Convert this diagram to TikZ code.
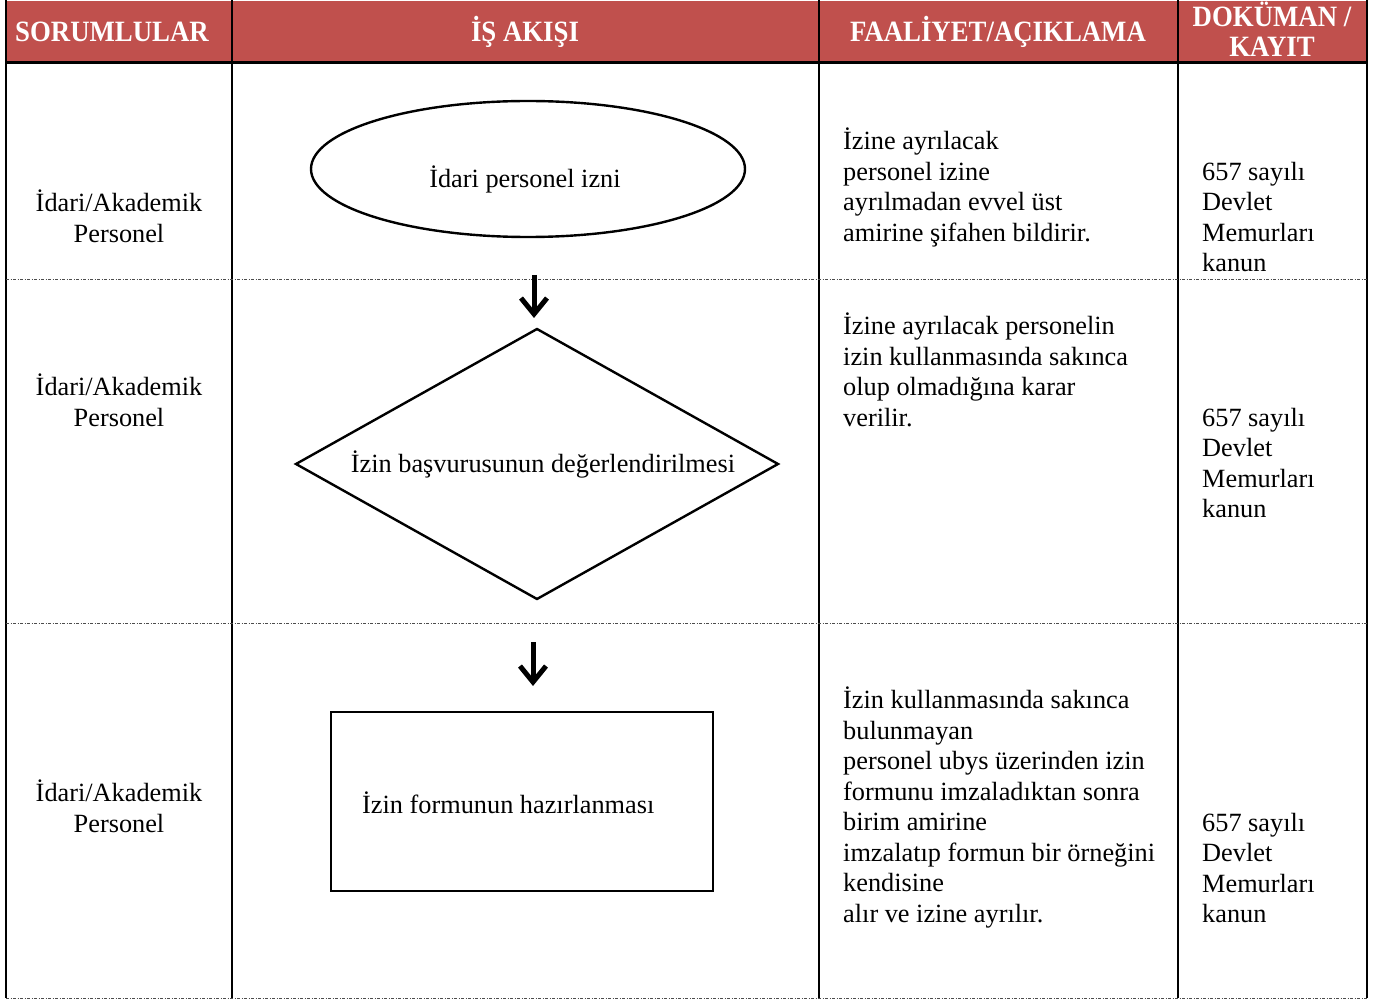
\documentclass[tikz,border=0pt]{standalone}
\usepackage{fontspec}
\setmainfont{Liberation Serif}
\usetikzlibrary{shapes.geometric,arrows.meta}
\definecolor{hdred}{HTML}{C0504D}
\newcommand{\bodyfont}{\fontsize{26.3}{30.5}\selectfont}
\newcommand{\hdscale}[1]{\scalebox{1}[1.1]{#1}}
\tikzset{
  txtl/.style={anchor=north west, align=left, inner sep=0pt, font=\bodyfont},
  txtc/.style={anchor=north, align=center, inner sep=0pt, font=\bodyfont},
  hdtxt/.style={align=center, inner sep=0pt, text=white, font=\fontsize{26.8}{30}\selectfont\bfseries},
  gridline/.style={line width=2.2pt, black},
  rowsep/.style={line width=0.8pt, gray!60!black, dash pattern=on 3pt off 1.5pt on 1pt off 1.5pt},
  shapeline/.style={draw, line width=2.4pt},
  flowarrow/.style={line width=5pt, -{Straight Barb[length=16pt,width=26pt]}},
}
\begin{document}
\begin{tikzpicture}[x=1pt, y=-1pt]
\useasboundingbox (0,0) rectangle (1379,1000);
% header
\fill[hdred] (6,1) rectangle (1367,63);
\draw[line width=3pt] (6,63) -- (1367,63);
\foreach \x in {6,232,819,1178,1367}
  \draw[gridline] (\x,0) -- (\x,998);
\foreach \y in {279,623,998}
  \draw[rowsep] (6,\y) -- (1367,\y);
\node[hdtxt] (h1) at (112,32) {\hdscale{SORUMLULAR}};
\node[hdtxt] (h2) at (525,32) {\hdscale{İŞ AKIŞI}};
\node[hdtxt] (h3) at (998,32) {\hdscale{FAALİYET/AÇIKLAMA}};
\node[hdtxt, anchor=base] (h4) at (1272,27) {\hdscale{DOKÜMAN /}};
\node[hdtxt, anchor=base] (h5) at (1272,57) {\hdscale{KAYIT}};

% column 1
\node[txtc] (r1c1) at (119,{211-21.35}) {\strut İdari/Akademik\\Personel};
\node[txtc] (r2c1) at (119,{395-21.35}) {\strut İdari/Akademik\\Personel};
\node[txtc] (r3c1) at (119,{801-21.35}) {\strut İdari/Akademik\\Personel};

% flow shapes
\node[shapeline, ellipse, minimum width=434pt, minimum height=136pt, inner sep=0pt] (start) at (528,169) {};
\node[inner sep=0pt, font=\bodyfont] (startlbl) at (525,179) {İdari personel izni};

\node[shapeline, diamond, minimum width=483pt, minimum height=271pt, aspect=1.78, inner sep=0pt] (dec) at (537,464) {};
\node[inner sep=0pt, font=\bodyfont] (declbl) at (543,464) {İzin başvurusunun değerlendirilmesi};

\node[shapeline, rectangle, minimum width=382pt, minimum height=179pt, inner sep=0pt] (proc) at (522,801.5) {};
\node[inner sep=0pt, font=\bodyfont, anchor=west] (proclbl) at (362,803) {İzin formunun hazırlanması};

% arrows
\coordinate (a1s) at (534,275);
\coordinate (a1e) at (534,318);
\draw[flowarrow] (a1s) -- (a1e);
\coordinate (a2s) at (533,642);
\coordinate (a2e) at (533,686);
\draw[flowarrow] (a2s) -- (a2e);

% column 3
\node[txtl] (r1c3) at (843,{149-21.35}) {\strut İzine ayrılacak\\personel izine\\ayrılmadan evvel üst\\amirine şifahen bildirir.};
\node[txtl] (r2c3) at (843,{334-21.35}) {\strut İzine ayrılacak personelin\\izin kullanmasında sakınca\\olup olmadığına karar\\verilir.};
\node[txtl] (r3c3) at (843,{708-21.35}) {\strut İzin kullanmasında sakınca\\bulunmayan\\personel ubys üzerinden izin\\formunu imzaladıktan sonra\\birim amirine\\imzalatıp formun bir örneğini\\kendisine\\alır ve izine ayrılır.};

% column 4
\node[txtl] (r1c4) at (1202,{180-21.35}) {\strut 657 sayılı\\Devlet\\Memurları\\kanun};
\node[txtl] (r2c4) at (1202,{426-21.35}) {\strut 657 sayılı\\Devlet\\Memurları\\kanun};
\node[txtl] (r3c4) at (1202,{831-21.35}) {\strut 657 sayılı\\Devlet\\Memurları\\kanun};
\end{tikzpicture}
\end{document}
